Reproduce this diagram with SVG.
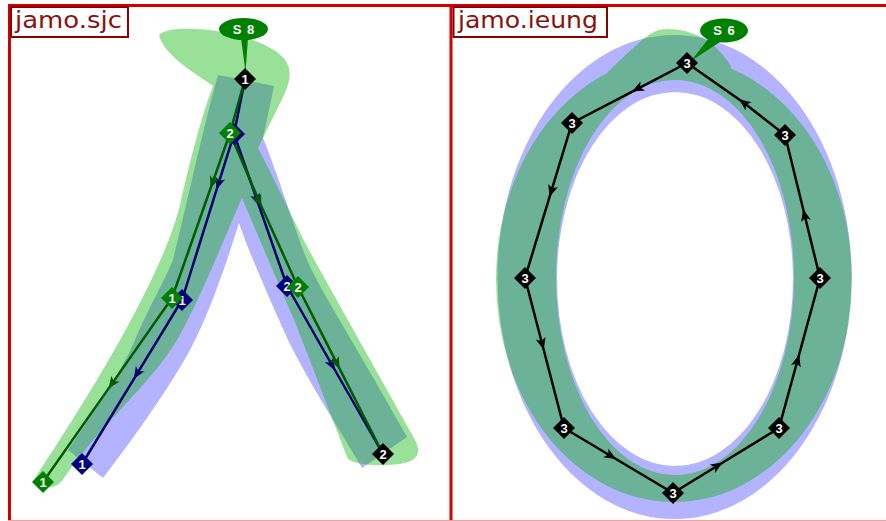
<svg xmlns="http://www.w3.org/2000/svg" width="886" height="521" viewBox="0 0 886 521">
<defs>
<style>
.frame{stroke:#d40000;stroke-width:3;fill:none}
.lbox{fill:#fff;stroke:#8b0000;stroke-width:2}
.ltxt{font-family:"DejaVu Sans","Liberation Sans",sans-serif;font-size:23px;fill:#8b1010}
.blue{fill:#b3b3ff}
.green{fill:#00b200;fill-opacity:0.4}
.ln{fill:none;stroke-width:2.5;stroke-linejoin:round}
.lg{stroke:#005a00}
.lb{stroke:#00006e}
.lk{stroke:#000}
.ag{marker-mid:url(#ag)}
.ab{marker-mid:url(#ab)}
.ak{marker-mid:url(#ak)}
.nt{font-family:"Liberation Sans","DejaVu Sans",sans-serif;font-size:13px;font-weight:bold;fill:#fff;text-anchor:middle}
.st{font-family:"Liberation Sans","DejaVu Sans",sans-serif;font-size:13px;font-weight:bold;fill:#fff;text-anchor:middle;letter-spacing:1px}
.kb{fill:#000}
.kg{fill:#008000}
.kn{fill:#000080}
</style>
<marker id="ag" markerUnits="userSpaceOnUse" markerWidth="14" markerHeight="12" viewBox="-7 -6 14 12" orient="auto"><path d="M6,0 L-6,-5 L-3,0 L-6,5 Z" fill="#005a00"/></marker>
<marker id="ab" markerUnits="userSpaceOnUse" markerWidth="14" markerHeight="12" viewBox="-7 -6 14 12" orient="auto"><path d="M6,0 L-6,-5 L-3,0 L-6,5 Z" fill="#00006e"/></marker>
<marker id="ak" markerUnits="userSpaceOnUse" markerWidth="14" markerHeight="12" viewBox="-7 -6 14 12" orient="auto"><path d="M6,0 L-6,-5 L-3,0 L-6,5 Z" fill="#000"/></marker>
<polygon id="dia" points="0,-11 11,0 0,11 -11,0"/>
</defs>
<rect width="886" height="521" fill="#fff"/>

<g id="glyphs">
<path class="blue" d="M218,75 L274,86 L263,138 C280,180 295,230 307,260 C320,290 350,335 407,437 L362,468 C340,430 310,385 288,340 C270,300 248,250 239,223 C232,245 215,300 195,340 C180,372 140,430 103,478 L68,450 C95,410 120,375 135,340 C150,305 165,280 173,260 C182,225 205,120 218,75 Z"/>
<path class="green" d="M159,35 C168,24 225,28 258,42 C290,55 296,70 284,95 L258,148 C275,180 300,235 320,270 C345,315 390,395 414,438 C424,456 416,464 388,465 C366,466 354,463 348,459 C325,400 310,360 295,322 C282,292 262,245 242,198 C230,225 200,300 177,340 C150,385 100,425 64,478 C58,489 43,491 33,481 C60,440 95,385 120,340 C145,295 170,245 180,205 C188,170 200,120 213,86 C193,72 164,55 159,35 Z"/>
<path class="blue" fill-rule="evenodd" d="M497.5,277 A177,242 0 1,1 851.5,277 A177,242 0 1,1 497.5,277 Z M557,279 A118,187 0 1,0 793,279 A118,187 0 1,0 557,279 Z"/>
<path class="green" fill-rule="nonzero" d="M496,279.5 A178,222.5 0 1,1 852,279.5 A178,222.5 0 1,1 496,279.5 Z M556,277.5 A119,197.5 0 1,0 794,277.5 A119,197.5 0 1,0 556,277.5 Z M605,75 C612,68 628,52 640,42 C650,33 657,29 667,29 C685,29 700,35 712,44 C720,51 726,58 731,66 L731,75 Z"/>
</g>

<g id="frames">
<line class="frame" x1="8" y1="5.5" x2="886" y2="5.5"/>
<line class="frame" x1="9.5" y1="4" x2="9.5" y2="521"/>
<line class="frame" x1="451" y1="4" x2="451" y2="521"/>
<line x1="8" y1="520.5" x2="886" y2="520.5" stroke="#f3a0a0" stroke-width="1"/>
</g>

<g id="connectors">
<path class="ln lb" d="M245,79 L234,134"/>
<path class="ln lb ab" d="M234,134 L218.4,183.8 L182,300"/>
<path class="ln lb ab" d="M182,300 L137,373.8 L82,464"/>
<path class="ln lb ab" d="M234,134 L257,200 L287,286"/>
<path class="ln lb ab" d="M287,286 L332,365 L383,454"/>
<path class="ln lg" d="M245,79 L230,133"/>
<path class="ln lg ag" d="M230,133 L212.6,182.5 L172,298"/>
<path class="ln lg ag" d="M172,298 L112,383.6 L43,482"/>
<path class="ln lg ag" d="M230,133 L259,201 L298,287"/>
<path class="ln lg ag" d="M298,287 L337,363.6 L383,454"/>
<path class="ln lk ak" d="M687,63 L637.5,88.8 L572,123"/>
<path class="ln lk ak" d="M572,123 L551.3,191.2 L525,278"/>
<path class="ln lk ak" d="M525,278 L542.2,344 L564,428"/>
<path class="ln lk ak" d="M564,428 L610.9,456 L673,493"/>
<path class="ln lk ak" d="M673,493 L717.5,465.7 L779,428"/>
<path class="ln lk ak" d="M779,428 L797.5,360.5 L820,278"/>
<path class="ln lk ak" d="M820,278 L804.6,215 L785,135"/>
<path class="ln lk ak" d="M785,135 L743.8,102.8 L687,63"/>
</g>

<g id="sjc-start-label">
<polygon class="kg" points="241,38 248,38 245.5,72"/>
<ellipse class="kg" cx="243.5" cy="29" rx="24.5" ry="11"/>
<text class="st" x="244" y="33.5">S 8</text>
</g>
<g id="ieung-start-label">
<polygon class="kg" points="709,38 720,42 691,61"/>
<ellipse class="kg" cx="724" cy="30.5" rx="24" ry="12"/>
<text class="st" x="724.5" y="35">S 6</text>
</g>

<g id="sjc-b2" transform="translate(234,134)"><use href="#dia" class="kn"/></g>
<g id="sjc-b1a" transform="translate(182,300)"><use href="#dia" class="kn"/><text class="nt" y="4.6">1</text></g>
<g id="sjc-b1b" transform="translate(82,464)"><use href="#dia" class="kn"/><text class="nt" y="4.6">1</text></g>
<g id="sjc-b2a" transform="translate(287,286)"><use href="#dia" class="kn"/><text class="nt" y="4.6">2</text></g>
<g id="sjc-g2" transform="translate(230,133)"><use href="#dia" class="kg"/><text class="nt" y="4.6">2</text></g>
<g id="sjc-g1a" transform="translate(172,298)"><use href="#dia" class="kg"/><text class="nt" y="4.6">1</text></g>
<g id="sjc-g1b" transform="translate(43,482)"><use href="#dia" class="kg"/><text class="nt" y="4.6">1</text></g>
<g id="sjc-g2a" transform="translate(298,287)"><use href="#dia" class="kg"/><text class="nt" y="4.6">2</text></g>
<g id="sjc-k1" transform="translate(245,79)"><use href="#dia" class="kb"/><text class="nt" y="4.6">1</text></g>
<g id="sjc-k2" transform="translate(383,454)"><use href="#dia" class="kb"/><text class="nt" y="4.6">2</text></g>

<g id="ieung-top" transform="translate(687,63)"><use href="#dia" class="kb"/><text class="nt" y="4.6">3</text></g>
<g id="ieung-ul" transform="translate(572,123)"><use href="#dia" class="kb"/><text class="nt" y="4.6">3</text></g>
<g id="ieung-ml" transform="translate(525,278)"><use href="#dia" class="kb"/><text class="nt" y="4.6">3</text></g>
<g id="ieung-ll" transform="translate(564,428)"><use href="#dia" class="kb"/><text class="nt" y="4.6">3</text></g>
<g id="ieung-bot" transform="translate(673,493)"><use href="#dia" class="kb"/><text class="nt" y="4.6">3</text></g>
<g id="ieung-lr" transform="translate(779,428)"><use href="#dia" class="kb"/><text class="nt" y="4.6">3</text></g>
<g id="ieung-mr" transform="translate(820,278)"><use href="#dia" class="kb"/><text class="nt" y="4.6">3</text></g>
<g id="ieung-ur" transform="translate(785,135)"><use href="#dia" class="kb"/><text class="nt" y="4.6">3</text></g>

<g id="label-sjc">
<rect class="lbox" x="11" y="7" width="117" height="30"/>
<text class="ltxt" x="15" y="27.5" textLength="107" lengthAdjust="spacingAndGlyphs">jamo.sjc</text>
</g>
<g id="label-ieung">
<rect class="lbox" x="453.5" y="7" width="153.5" height="30"/>
<text class="ltxt" x="458" y="28" textLength="140" lengthAdjust="spacingAndGlyphs">jamo.ieung</text>
</g>
</svg>
